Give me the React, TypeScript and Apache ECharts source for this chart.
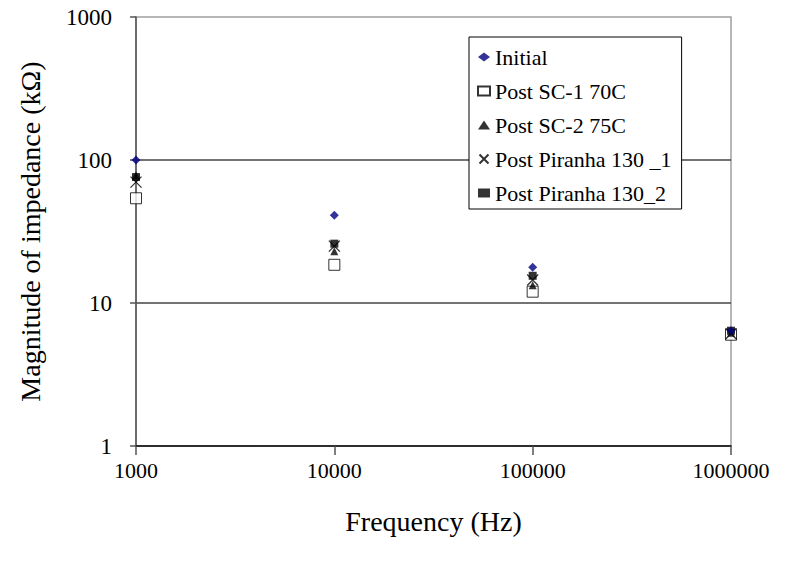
import React, { useEffect, useRef } from "react";
import * as echarts from "echarts";

const frequencies = [1000, 10000, 100000, 1000000];
const seriesNames = ["Initial", "Post SC-1 70C", "Post SC-2 75C", "Post Piranha 130 _1", "Post Piranha 130_2"];
const initial = [100, 41, 17.8, 6.4];
const postSC1 = [54, 18.5, 12, 6.0];
const postSC2 = [78, 23, 13.3, 6.2];
const postPiranha1 = [70, 25, 14.5, 6.1];
const postPiranha2 = [76, 26, 15.5, 6.4];
const yTicks = [1, 10, 100, 1000];

const FONT = "Liberation Serif";
const X_PATH = "path://M0,0 L10,10 M10,0 L0,10";

export default function App() {
  const ref = useRef<HTMLDivElement>(null);
  useEffect(() => {
    if (!ref.current) return;
    const chart = echarts.init(ref.current, null, { renderer: "svg" });
    const mk = (vals: number[]) => frequencies.map((f, i) => [f, vals[i]]);
    chart.setOption({
      animation: false,
      backgroundColor: "#fff",
      textStyle: { fontFamily: FONT },
      grid: { left: 136, top: 17, right: 55, bottom: 121, show: true, borderColor: "#a0a0a0", borderWidth: 1.5, backgroundColor: "transparent" },
      legend: {
        orient: "vertical",
        left: 469,
        top: 37,
        backgroundColor: "#fff",
        borderColor: "#000",
        borderWidth: 1,
        padding: [9, 10, 5, 8],
        itemGap: 12,
        itemWidth: 12,
        itemHeight: 9,
        textStyle: { fontFamily: FONT, fontSize: 22, color: "#000" },
        data: seriesNames,
      },
      xAxis: {
        type: "log",
        logBase: 10,
        min: 1000,
        max: 1000000,
        name: "Frequency (Hz)",
        nameLocation: "middle",
        nameGap: 61,
        nameTextStyle: { fontFamily: FONT, fontSize: 28, color: "#000" },
        axisLine: { lineStyle: { color: "#000", width: 1.5 } },
        axisTick: { show: true, inside: false, length: 9, lineStyle: { color: "#555", width: 1.5 } },
        axisLabel: { fontFamily: FONT, fontSize: 22, color: "#000", margin: 13, formatter: (v: number) => String(Math.round(v)) },
        splitLine: { show: false },
        minorTick: { show: false },
      },
      yAxis: {
        type: "log",
        logBase: 10,
        min: yTicks[0],
        max: yTicks[yTicks.length - 1],
        name: "Magnitude of impedance (kΩ)",
        nameLocation: "middle",
        nameGap: 92,
        nameTextStyle: { fontFamily: FONT, fontSize: 28, color: "#000" },
        axisLine: { lineStyle: { color: "#555", width: 1.5 } },
        axisTick: { show: true, inside: false, length: 6, lineStyle: { color: "#555", width: 1.5 } },
        axisLabel: { fontFamily: FONT, fontSize: 23, color: "#000", margin: 24, formatter: (v: number) => String(Math.round(v)) },
        splitLine: { show: true, showMaxLine: false, showMinLine: false, lineStyle: { color: "#444", width: 1.5 } },
      },
      series: [
        {
          name: seriesNames[0], type: "scatter", data: mk(initial), symbol: "diamond", symbolSize: 9,
          itemStyle: { color: "#000080" }, z: 6,
        },
        {
          name: seriesNames[1], type: "scatter", data: mk(postSC1), symbol: "rect", symbolSize: 11,
          itemStyle: { color: "#fff", borderColor: "#000", borderWidth: 1 }, z: 2,
        },
        {
          name: seriesNames[2], type: "scatter", data: mk(postSC2), symbol: "triangle", symbolSize: 8,
          itemStyle: { color: "#000" }, z: 3,
        },
        {
          name: seriesNames[3], type: "scatter", data: mk(postPiranha1), symbol: X_PATH, symbolSize: 11,
          itemStyle: { color: "transparent", borderColor: "#000", borderWidth: 1.3 }, z: 4,
        },
        {
          name: seriesNames[4], type: "scatter", data: mk(postPiranha2), symbol: "rect", symbolSize: 8,
          itemStyle: { color: "#000" }, z: 5,
        },
      ],
    });
    return () => chart.dispose();
  }, []);
  return <div ref={ref} style={{ width: 786, height: 567, position: "absolute", left: 0, top: 0 }} />;
}
